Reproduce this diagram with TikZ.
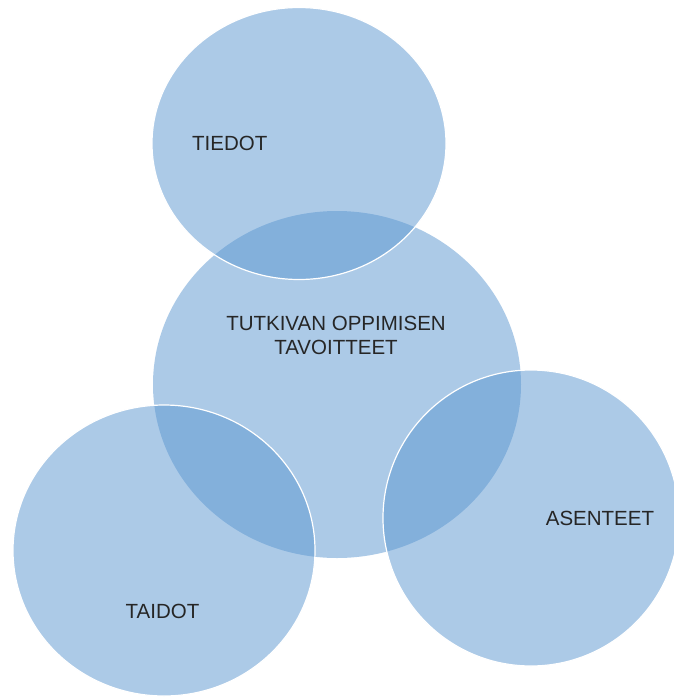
\documentclass[tikz,border=0pt]{standalone}
\usepackage{fontspec}
\setmainfont{Liberation Sans}
\definecolor{venn}{RGB}{91,151,209}
\begin{document}
\begin{tikzpicture}[x=1pt,y=-1pt,
  blob/.style={fill=venn,fill opacity=0.5,draw=white,draw opacity=1,line width=1.2pt},
  core/.style={fill=venn,fill opacity=0.5,draw=none},
  lbl/.style={font=\fontsize{20.5}{23.3}\selectfont,text=black!85,inner sep=0pt,anchor=base,align=center}]
\useasboundingbox (0,0) rectangle (674,697);
\fill[white] (0,0) rectangle (674,697);
\path[core] (337,384.5) ellipse [x radius=184, y radius=173.5];
\path[blob] (299,143.5) ellipse [x radius=147, y radius=136];
\path[blob] (164,550.5) ellipse [x radius=151, y radius=145.5];
\path[blob] (531,518) ellipse [x radius=148, y radius=148];
\node[lbl] (tiedot) at (229.7,150.7) {TIEDOT};
\node[lbl] (tut1) at (336,330.7) {TUTKIVAN OPPIMISEN};
\node[lbl] (tut2) at (336,354) {TAVOITTEET};
\node[lbl] (taidot) at (162.5,618.3) {TAIDOT};
\node[lbl] (asenteet) at (600,525) {ASENTEET};
\end{tikzpicture}
\end{document}
